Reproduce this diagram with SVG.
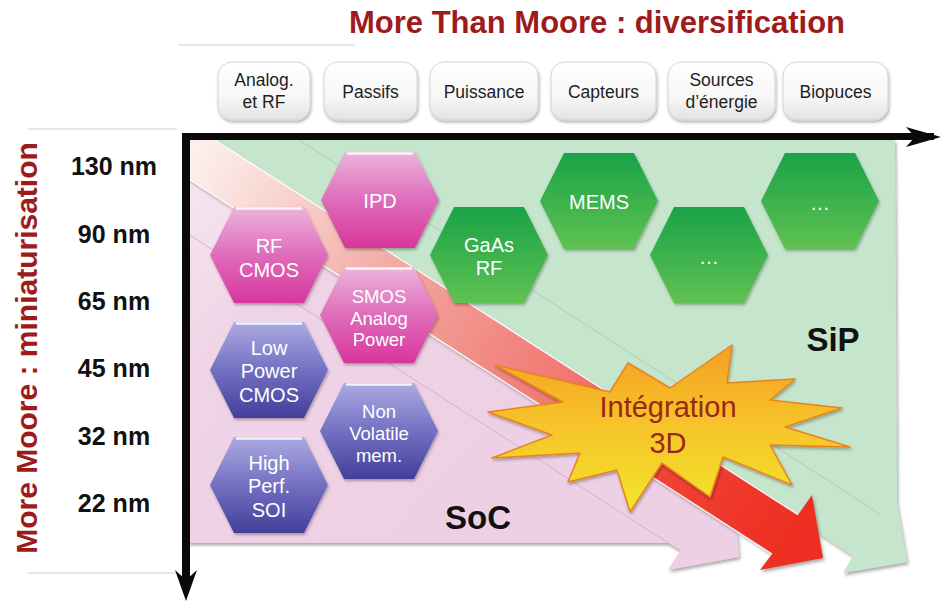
<svg xmlns="http://www.w3.org/2000/svg" xmlns:xlink="http://www.w3.org/1999/xlink" width="941" height="601" viewBox="0 0 941 601">
<defs>
<style>
.title{font-family:"Liberation Sans",Arial,sans-serif;font-weight:bold;fill:#9e1b1b}
.nm{font-family:"Liberation Sans",Arial,sans-serif;font-weight:bold;font-size:25px;fill:#111;text-anchor:middle}
.box{fill:url(#gBox);stroke:#d4d4d4;stroke-width:1;filter:url(#sh)}
.bt{font-family:"Liberation Sans",Arial,sans-serif;font-size:17.5px;fill:#1e1e1e;text-anchor:middle}
.ht{font-family:"Liberation Sans",Arial,sans-serif;font-size:20px;fill:#fff;text-anchor:middle}
.ht3{font-family:"Liberation Sans",Arial,sans-serif;font-size:18.5px;fill:#fff;text-anchor:middle}
.hp{fill:url(#gPink);filter:url(#sh)}
.hb{fill:url(#gBlue);filter:url(#sh)}
.hg{fill:url(#gGreen);filter:url(#sh)}
.gl{stroke:#fff;stroke-width:2.5;stroke-linecap:round;opacity:.85}
.big{font-family:"Liberation Sans",Arial,sans-serif;font-weight:bold;font-size:33px;fill:#111;text-anchor:middle}
.st{font-family:"Liberation Sans",Arial,sans-serif;font-size:29px;fill:#9b2816;text-anchor:middle}
.thin{stroke:#cfcfcf;stroke-width:1.2}
</style>
<linearGradient id="gBox" x1="0" y1="0" x2="0" y2="1"><stop offset="0" stop-color="#ffffff"/><stop offset="0.6" stop-color="#f7f7f7"/><stop offset="1" stop-color="#e2e2e2"/></linearGradient>
<linearGradient id="gPink" x1="0" y1="0" x2="0" y2="1"><stop offset="0" stop-color="#ecb4dc"/><stop offset="0.5" stop-color="#df6cbb"/><stop offset="1" stop-color="#d8369b"/></linearGradient>
<linearGradient id="gBlue" x1="0" y1="0" x2="0" y2="1"><stop offset="0" stop-color="#acaae2"/><stop offset="0.5" stop-color="#7370c2"/><stop offset="1" stop-color="#423f9a"/></linearGradient>
<linearGradient id="gGreen" x1="0" y1="0" x2="0" y2="1"><stop offset="0" stop-color="#19a348"/><stop offset="1" stop-color="#60c152"/></linearGradient>
<linearGradient id="gRed" gradientUnits="userSpaceOnUse" x1="200" y1="150" x2="800" y2="530"><stop offset="0" stop-color="#fcefec"/><stop offset="0.15" stop-color="#f8d0cb"/><stop offset="0.35" stop-color="#f3a29c"/><stop offset="0.6" stop-color="#f07a72"/><stop offset="0.8" stop-color="#ef4236"/><stop offset="1" stop-color="#ee2e22"/></linearGradient>
<linearGradient id="gPinkBg" gradientUnits="userSpaceOnUse" x1="190" y1="150" x2="500" y2="450"><stop offset="0" stop-color="#f7e8ef"/><stop offset="0.4" stop-color="#efd3e6"/><stop offset="1" stop-color="#edd0e4"/></linearGradient>
<linearGradient id="gStar" x1="0" y1="0" x2="0" y2="1"><stop offset="0" stop-color="#f5a024"/><stop offset="0.5" stop-color="#f6c52a"/><stop offset="1" stop-color="#f2e52e"/></linearGradient>
<filter id="sh" x="-10%" y="-10%" width="125%" height="130%"><feDropShadow dx="1" dy="2" stdDeviation="1.6" flood-color="#000" flood-opacity="0.3"/></filter>
<filter id="ash" x="-5%" y="-5%" width="115%" height="115%"><feDropShadow dx="1.5" dy="2.5" stdDeviation="1.5" flood-color="#444" flood-opacity="0.45"/></filter>
<polygon id="hex" points="-59,0 -35,-48 35,-48 59,0 35,48 -35,48"/>
</defs>

<rect width="941" height="601" fill="#fff"/>

<!-- title & decorative lines -->
<text class="title" x="597" y="33" font-size="31" text-anchor="middle">More Than Moore : diversification</text>
<line class="thin" x1="178" y1="45" x2="355" y2="45"/>
<line class="thin" x1="28" y1="129" x2="177" y2="129"/>
<line class="thin" x1="28" y1="573" x2="177" y2="573"/>
<text class="title" font-size="30" text-anchor="middle" transform="translate(37,348) rotate(-90)">More Moore : miniaturisation</text>

<!-- node size labels -->
<g id="sizes">
<text class="nm" x="114" y="175">130 nm</text>
<text class="nm" x="114" y="243">90 nm</text>
<text class="nm" x="114" y="310">65 nm</text>
<text class="nm" x="114" y="377">45 nm</text>
<text class="nm" x="114" y="445">32 nm</text>
<text class="nm" x="114" y="512">22 nm</text>
</g>

<!-- category boxes -->
<g id="cat-analog"><rect class="box" x="218" y="62" width="92" height="58" rx="14"/><text class="bt" x="264" y="86">Analog.</text><text class="bt" x="264" y="108">et RF</text></g>
<g id="cat-passifs"><rect class="box" x="324" y="62" width="93" height="58" rx="14"/><text class="bt" x="370.5" y="98">Passifs</text></g>
<g id="cat-puissance"><rect class="box" x="430" y="62" width="108" height="58" rx="14"/><text class="bt" x="484" y="98">Puissance</text></g>
<g id="cat-capteurs"><rect class="box" x="551" y="62" width="105" height="58" rx="14"/><text class="bt" x="603.5" y="98">Capteurs</text></g>
<g id="cat-sources"><rect class="box" x="668" y="62" width="107" height="58" rx="14"/><text class="bt" x="721.5" y="86">Sources</text><text class="bt" x="721.5" y="108">d’énergie</text></g>
<g id="cat-biopuces"><rect class="box" x="783" y="62" width="105" height="58" rx="14"/><text class="bt" x="835.5" y="98">Biopuces</text></g>

<!-- background arrows -->
<g id="regions">
<polygon fill="#c6e5cd" filter="url(#ash)" points="188,140 895,140 897,503 907,562 843,573 853,556 215,140"/>
<line x1="299" y1="140" x2="880" y2="514" stroke="#aacfb4" stroke-width="1"/>
<polygon fill="url(#gPinkBg)" filter="url(#ash)" points="188,178.7 737,531.7 739,557 668,570 680,550.6 668,543 188,543"/>
<line x1="188" y1="234" x2="680" y2="550.6" stroke="#d2b2cc" stroke-width="1"/>
<polygon fill="url(#gRed)" filter="url(#ash)" points="188,140 215,140 798,514.7 812,495 823,558 760,570 772,554 188,178.7"/>
<line x1="215" y1="140" x2="798" y2="514.7" stroke="#fff" stroke-width="1.4" opacity="0.9"/>
<line x1="188" y1="178.7" x2="772" y2="554" stroke="#fff" stroke-width="1.4" opacity="0.9"/>
</g>

<!-- axes -->
<g id="axes" fill="#0a0a0a">
<rect x="182" y="133" width="752" height="7"/>
<rect x="182" y="133" width="8" height="450"/>
<path d="M906,127 L941,137 L906,147 L915,137 Z"/>
<path d="M175,570 L186,601 L197,570 L186,580 Z"/>
</g>

<!-- hexagons -->
<g id="rf-cmos" transform="translate(269,255)"><use href="#hex" class="hp"/><line class="gl" x1="-32" y1="-46.5" x2="32" y2="-46.5"/><text class="ht" x="0" y="-2">RF</text><text class="ht" x="0" y="22">CMOS</text></g>
<g id="ipd" transform="translate(380,200)"><use href="#hex" class="hp"/><line class="gl" x1="-32" y1="-46.5" x2="32" y2="-46.5"/><text class="ht" x="0" y="8">IPD</text></g>
<g id="smos" transform="translate(379,315)"><use href="#hex" class="hp"/><line class="gl" x1="-32" y1="-46.5" x2="32" y2="-46.5"/><text class="ht3" x="0" y="-12">SMOS</text><text class="ht3" x="0" y="10">Analog</text><text class="ht3" x="0" y="31">Power</text></g>
<g id="low-power" transform="translate(269,370)"><use href="#hex" class="hb"/><line class="gl" x1="-32" y1="-46.5" x2="32" y2="-46.5"/><text class="ht" x="0" y="-15">Low</text><text class="ht" x="0" y="8">Power</text><text class="ht" x="0" y="32">CMOS</text></g>
<g id="non-volatile" transform="translate(379,431)"><use href="#hex" class="hb"/><line class="gl" x1="-32" y1="-46.5" x2="32" y2="-46.5"/><text class="ht3" x="0" y="-13">Non</text><text class="ht3" x="0" y="9">Volatile</text><text class="ht3" x="0" y="31">mem.</text></g>
<g id="high-perf" transform="translate(269,485)"><use href="#hex" class="hb"/><line class="gl" x1="-32" y1="-46.5" x2="32" y2="-46.5"/><text class="ht" x="0" y="-15">High</text><text class="ht" x="0" y="8">Perf.</text><text class="ht" x="0" y="32">SOI</text></g>
<g id="gaas" transform="translate(489,255)"><use href="#hex" class="hg"/><text class="ht" x="0" y="-3">GaAs</text><text class="ht" x="0" y="20">RF</text></g>
<g id="mems" transform="translate(599,201)"><use href="#hex" class="hg"/><text class="ht" x="0" y="8">MEMS</text></g>
<g id="more1" transform="translate(709,255)"><use href="#hex" class="hg"/><text class="ht" x="0" y="9">…</text></g>
<g id="more2" transform="translate(820,201)"><use href="#hex" class="hg"/><text class="ht" x="0" y="9">…</text></g>

<!-- region labels -->
<text class="big" x="833" y="351">SiP</text>
<text class="big" x="478" y="529">SoC</text>

<!-- star -->
<g id="integration-3d">
<polygon fill="url(#gStar)" stroke="#e8841e" stroke-width="1.5" stroke-linejoin="round" filter="url(#sh)" points="495,365 610,392 628,363 670,388 732,345 727,383 795,379 770,400 842,408 785,427 850,447 770,445 792,485 723,457 710,497 662,463 630,512 617,470 568,482 580,453 492,458 552,435 488,412 563,402"/>
<text class="st" x="668" y="417">Intégration</text>
<text class="st" x="668" y="453">3D</text>
</g>
</svg>
